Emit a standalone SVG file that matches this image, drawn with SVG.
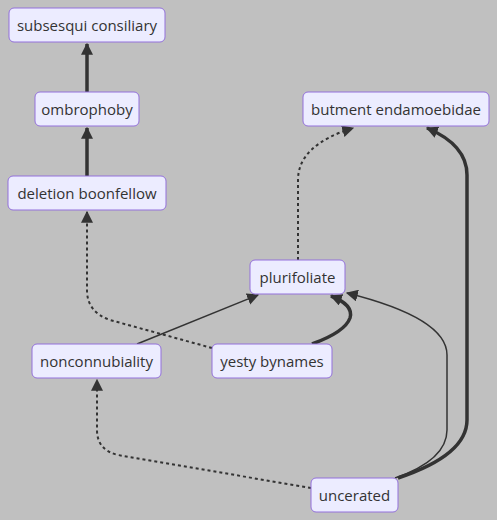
<svg xmlns="http://www.w3.org/2000/svg" width="497" height="520" viewBox="0 0 497 520">
<style>
.node rect{fill:#ECECFF;stroke:#9370DB;stroke-width:1}
.node text{font-family:"Open Sans","DejaVu Sans",sans-serif;font-size:15px;fill:#333;text-anchor:middle;dominant-baseline:central}
.e{fill:none;stroke:#333}
.thin{stroke-width:1.5}
.thick{stroke-width:3.5}
.dot{stroke-width:2;stroke-dasharray:3 3}
</style>
<defs>
<marker id="ah" viewBox="0 0 10 10" refX="9" refY="5" markerUnits="userSpaceOnUse" markerWidth="12" markerHeight="12" orient="auto">
<path d="M0,0 L10,5 L0,10 z" fill="#333"/>
</marker>
</defs>
<rect width="497" height="520" fill="#C0C0C0"/>
<g id="connectors">
<path class="e thick" d="M87,92 L87,44" marker-end="url(#ah)"/>
<path class="e thick" d="M87,176 L87,128" marker-end="url(#ah)"/>
<path class="e dot" d="M212,348 L110,320 Q87,312 87,290 L87,212" marker-end="url(#ah)"/>
<path class="e thin" d="M137,344 L258,295" marker-end="url(#ah)"/>
<path class="e thick" d="M312,344 Q345,332 350,318 Q354,305 331,296" marker-end="url(#ah)"/>
<path class="e thin" d="M395,478 Q447,460 447,430 L447,355 Q447,318 347,293" marker-end="url(#ah)"/>
<path class="e thick" d="M398,478 Q467,455 467,420 L467,175 Q467,145 427,128" marker-end="url(#ah)"/>
<path class="e dot" d="M298,260 L298,180 Q298,145 353,128" marker-end="url(#ah)"/>
<path class="e dot" d="M311,488 L118,455 Q97,450 97,430 L97,380" marker-end="url(#ah)"/>
</g>
<g id="subsesqui" class="node"><rect x="9" y="8" width="156" height="34" rx="5"/><text x="87" y="25">subsesqui consiliary</text></g>
<g id="ombrophoby" class="node"><rect x="35" y="92" width="104" height="34" rx="5"/><text x="87" y="109">ombrophoby</text></g>
<g id="deletion" class="node"><rect x="8" y="176" width="158" height="34" rx="5"/><text x="87" y="193">deletion boonfellow</text></g>
<g id="butment" class="node"><rect x="303" y="92" width="186" height="34" rx="5"/><text x="396" y="109">butment endamoebidae</text></g>
<g id="plurifoliate" class="node"><rect x="250" y="260" width="95" height="34" rx="5"/><text x="297.5" y="277">plurifoliate</text></g>
<g id="nonconnubiality" class="node"><rect x="32" y="344" width="129" height="34" rx="5"/><text x="96.5" y="361">nonconnubiality</text></g>
<g id="yesty" class="node"><rect x="212" y="344" width="120" height="34" rx="5"/><text x="272" y="361">yesty bynames</text></g>
<g id="uncerated" class="node"><rect x="311" y="478" width="87" height="34" rx="5"/><text x="354.5" y="495">uncerated</text></g>
</svg>
